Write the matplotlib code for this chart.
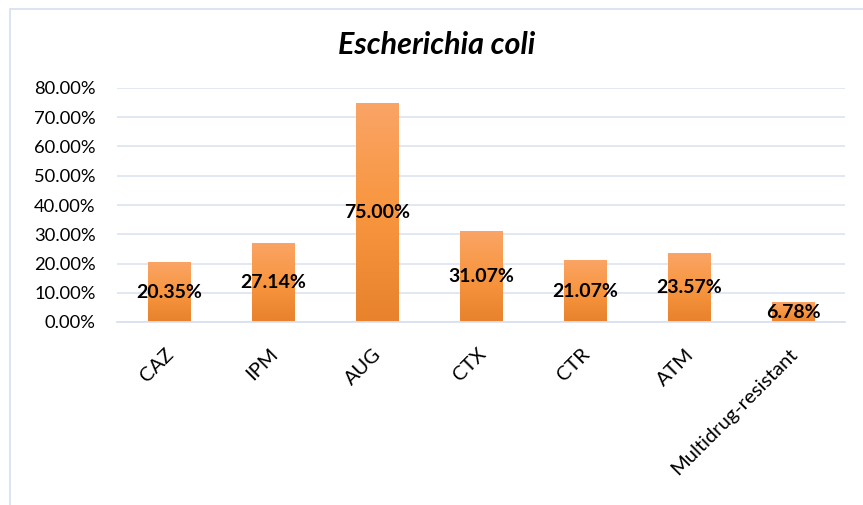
import matplotlib
matplotlib.use("Agg")
import matplotlib.pyplot as plt
import matplotlib.transforms as mtransforms
import numpy as np
from matplotlib.patches import Rectangle
from matplotlib.colors import LinearSegmentedColormap

categories = ["CAZ", "IPM", "AUG", "CTX", "CTR", "ATM", "Multidrug-resistant"]
rates = [20.35, 27.14, 75.00, 31.07, 21.07, 23.57, 6.78]
yticks = [0, 10, 20, 30, 40, 50, 60, 70, 80]
title = "Escherichia coli"

plt.rcParams["font.family"] = ["Lato", "DejaVu Sans"]

W, H = 863, 505
fig = plt.figure(figsize=(W / 100, H / 100), dpi=100)
ax = fig.add_axes([117 / W, 1 - 322 / H, (845 - 117) / W, (322 - 88) / H])

# outer chart-area border (open to the right and bottom)
fig.patches.append(Rectangle((10 / W, -0.05), 1.2, 1 - 9 / H + 0.05,
                             transform=fig.transFigure, fill=False,
                             edgecolor="#d5dff0", linewidth=1.2, zorder=0))

x = np.arange(len(categories))
bars = ax.bar(x, rates, width=0.41, color="none", edgecolor="none", zorder=2)

grad = LinearSegmentedColormap.from_list("og", ["#e8822c", "#f8963f", "#faa466"])
g = np.linspace(0, 1, 256).reshape(-1, 1)
for b in bars:
    x0, w, h = b.get_x(), b.get_width(), b.get_height()
    im = ax.imshow(g, cmap=grad, origin="lower", aspect="auto",
                   extent=(x0, x0 + w, 0, h), zorder=2)
    im.set_clip_path(b)

for xi, v in zip(x, rates):
    ax.text(xi, v / 2, f"{v:.2f}%", ha="center", va="center",
            fontsize=14, fontweight="bold", color="black", zorder=3)

ax.set_xlim(-0.5, len(categories) - 0.5)
ax.set_ylim(0, 80)
ax.set_yticks(yticks)
ax.set_yticklabels([f"{t:.2f}%" for t in yticks], fontsize=13.2)
ax.set_xticks(x)
ax.set_xticklabels(categories, rotation=45, ha="right", va="center",
                   rotation_mode="anchor", fontsize=14.5)

ax.grid(axis="y", color="#d9e2f1", linewidth=1.1, zorder=0)
ax.set_axisbelow(True)
for s in ["top", "right", "left"]:
    ax.spines[s].set_visible(False)
ax.spines["bottom"].set_color("#d9e2f1")
ax.spines["bottom"].set_linewidth(1.3)
ax.tick_params(axis="both", length=0)
ax.tick_params(axis="y", pad=15.5)
ax.tick_params(axis="x", pad=14)

# nudge the rotated category labels so they sit slightly right of the tick and lower
for lbl in ax.get_xticklabels():
    lbl.set_transform(lbl.get_transform() +
                      mtransforms.ScaledTranslation(2 / 100, -10 / 100, fig.dpi_scale_trans))

fig.text(437 / W, 1 - 45 / H, title, ha="center", va="center",
         fontsize=22, fontweight="bold", fontstyle="italic")

fig.savefig("out.png", dpi=100)
